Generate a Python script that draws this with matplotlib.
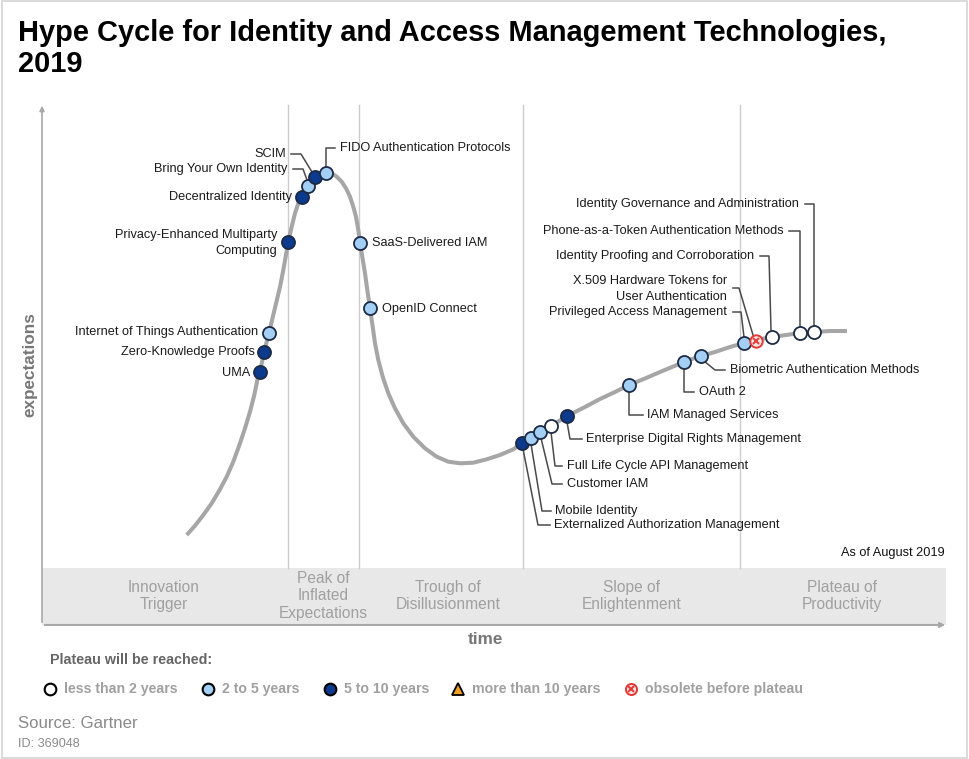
import matplotlib
matplotlib.use("Agg")
import matplotlib.pyplot as plt
from matplotlib.patches import Rectangle

plt.rcParams['font.family'] = ['Liberation Sans', 'DejaVu Sans']

# ---------------- data (pixel-space coordinates) ----------------
title_line1 = "Hype Cycle for Identity and Access Management Technologies,"
title_line2 = "2019"

# hype curve: time (x) and expectations (y, screen units, larger = lower)
curve_time = [186.7, 195, 203.3, 211.7, 220, 226.7, 233.3, 240, 245, 250, 254.3, 257.7, 260,
              264, 269, 274, 280, 283.3, 288.3, 291.7, 295, 298.3, 301.7, 308.3, 314.7, 320,
              326, 331.7, 336.7, 341.7, 346, 350, 353.3, 356, 358.3, 360, 362.3, 365, 367.3,
              370, 372.7, 375, 378.3, 382.7, 388.3, 395, 403.3, 413.3, 425, 436.7, 448.3,
              460, 473.3, 486.7, 500, 513.3, 522, 531, 540, 551, 567, 585, 600, 615, 629,
              645, 660, 672, 684, 692, 701, 715, 730, 744, 756, 772, 786, 800, 814, 830, 847]
curve_expect = [535, 525.7, 515, 503.3, 489.3, 476.7, 461.7, 443.3, 428.3, 411.7, 395, 378.3, 372,
                352, 333, 312, 287, 270, 241.7, 226.7, 213.3, 203.3, 197.3, 185.7, 177.3, 174,
                172.7, 173.3, 176.7, 181.7, 188.3, 196.7, 206.7, 216.7, 230, 242.7, 256.7, 273.3, 290,
                308.3, 326.7, 343.3, 360, 376.7, 393.3, 408.3, 423.3, 436.7, 448.3, 456.7, 461.7,
                463.3, 462.7, 459.3, 455, 449.3, 443, 438, 432, 426, 416, 407, 399, 392, 385,
                378.5, 372, 367, 362, 359, 356, 352, 347, 343, 340, 337, 335, 333, 332, 331, 331]

tech_names = ["UMA", "Zero-Knowledge Proofs", "Internet of Things Authentication",
              "Privacy-Enhanced Multiparty\nComputing", "Decentralized Identity",
              "Bring Your Own Identity", "SCIM", "FIDO Authentication Protocols",
              "SaaS-Delivered IAM", "OpenID Connect",
              "Externalized Authorization Management", "Mobile Identity", "Customer IAM",
              "Full Life Cycle API Management", "Enterprise Digital Rights Management",
              "IAM Managed Services", "OAuth 2", "Biometric Authentication Methods",
              "Privileged Access Management", "X.509 Hardware Tokens for\nUser Authentication",
              "Identity Proofing and Corroboration", "Phone-as-a-Token Authentication Methods",
              "Identity Governance and Administration"]
tech_time = [260, 264, 269, 288, 302, 308, 315, 326, 360, 370,
             522, 531, 540, 551, 567, 629, 684, 701, 744, 756, 772, 800, 814]
tech_expect = [372, 352, 333, 242, 197, 186, 177, 173, 243, 308,
               443, 438, 432, 426, 416, 385, 362, 356, 343, 341, 337, 333, 332]
# plateau categories: "lt2", "2to5", "5to10", "gt10", "obs"
tech_cat = ["5to10", "5to10", "2to5", "5to10", "5to10", "2to5", "5to10", "2to5", "2to5", "2to5",
            "5to10", "2to5", "2to5", "lt2", "5to10", "2to5", "2to5", "2to5", "2to5", "obs",
            "lt2", "lt2", "lt2"]

phase_names = ["Innovation\nTrigger", "Peak of\nInflated\nExpectations", "Trough of\nDisillusionment",
               "Slope of\nEnlightenment", "Plateau of\nProductivity"]
legend_labels = ["less than 2 years", "2 to 5 years", "5 to 10 years", "more than 10 years",
                 "obsolete before plateau"]
legend_cats = ["lt2", "2to5", "5to10", "gt10", "obs"]

# ---------------- layout / style ----------------
W, H = 970, 759
fig = plt.figure(figsize=(W / 100, H / 100), dpi=100)
ax = fig.add_axes([0, 0, 1, 1])
ax.set_xlim(0, W)
ax.set_ylim(H, 0)
ax.axis('off')

# outer frame
ax.add_patch(Rectangle((2.5, 0.5), 965, 757, fill=False, ec='#d4d4d4', lw=1.2, zorder=0))

# title
ax.text(18, 33, title_line1, fontsize=20.9, fontweight='bold', ha='left', va='center', color='black')
ax.text(18, 64, title_line2, fontsize=20.9, fontweight='bold', ha='left', va='center', color='black')

# plot-area geometry
x0, x1 = 42, 946
y_top, y_axis, band_top = 105, 625, 568
phase_bounds = [42, 288, 359, 523, 740, 946]
phase_label_x = [164, 323, 448, 632, 842]

ax.add_patch(Rectangle((x0, band_top), x1 - x0, y_axis - band_top, fc='#e8e8e8', ec='none', zorder=0))
for xb in phase_bounds[1:-1]:
    ax.plot([xb, xb], [y_top, band_top], color='#cccccc', lw=1, zorder=1)
for name, xc in zip(phase_names, phase_label_x):
    ax.text(xc, 596, name, fontsize=11.2, color='#a0a0a0', ha='center', va='center',
            linespacing=1.2, zorder=2)

# axes with arrows
ax.annotate('', xy=(x0, y_top - 2), xytext=(x0, y_axis),
            arrowprops=dict(arrowstyle='-|>', color='#a8a8a8', lw=1.2, mutation_scale=7), zorder=2)
ax.annotate('', xy=(x1 + 2, y_axis), xytext=(x0, y_axis),
            arrowprops=dict(arrowstyle='-|>', color='#a8a8a8', lw=1.5, mutation_scale=7), zorder=2)

ax.text(485, 639, "time", fontsize=12.3, fontweight='bold', color='#777777', ha='center', va='center')
ax.text(30, 365, "expectations", fontsize=12.3, fontweight='bold', color='#777777',
        ha='center', va='center', rotation=90)
ax.text(945, 553, "As of August 2019", fontsize=9.2, color='#111111', ha='right', va='center')

# curve
ax.plot(curve_time, curve_expect, color='#a6a6a6', lw=2.9, solid_capstyle='butt',
        solid_joinstyle='round', zorder=3)

face = {"lt2": "white", "2to5": "#a3cff4", "5to10": "#0c3a8c", "gt10": "#f0a020", "obs": "white"}
edge = '#1c2a44'


def draw_marker(x, y, cat, size=9.4, z=6, legend=False):
    if cat == "obs":
        ax.plot([x], [y], marker='o', ms=size * 0.95, mfc='#fbe3e3', mec='#e53935', mew=1.4, zorder=z)
        ax.plot([x], [y], marker='x', ms=size * 0.5, mec='#e53935', mew=1.4, zorder=z + 0.1)
    elif cat == "gt10":
        ax.plot([x], [y], marker='^', ms=size * 1.1, mfc=face[cat], mec='black', mew=1.3, zorder=z)
    else:
        ax.plot([x], [y], marker='o', ms=size, mfc=face[cat],
                mec='black' if legend else edge, mew=1.5 if legend else 1.3, zorder=z)


for x, y, c in zip(tech_time, tech_expect, tech_cat):
    draw_marker(x, y, c)

# label placement: (text x, text y, ha, leader path)
label_layout = {
    "UMA": (250, 373, 'right', None),
    "Zero-Knowledge Proofs": (255, 352, 'right', None),
    "Internet of Things Authentication": (258, 332, 'right', None),
    "Privacy-Enhanced Multiparty\nComputing": (277, 243, 'right', None),
    "Decentralized Identity": (292, 197, 'right', None),
    "Bring Your Own Identity": (287, 169, 'right', [(293, 169), (303, 169), (307, 180)]),
    "SCIM": (286, 154, 'right', [(291, 154), (301, 154), (312, 172)]),
    "FIDO Authentication Protocols": (340, 148, 'left', [(335, 148), (326, 148), (326, 166)]),
    "SaaS-Delivered IAM": (372, 243, 'left', None),
    "OpenID Connect": (382, 309, 'left', None),
    "Externalized Authorization Management": (554, 525, 'left', [(523, 449), (538, 525), (550, 525)]),
    "Mobile Identity": (555, 511, 'left', [(531, 444), (542, 511), (551, 511)]),
    "Customer IAM": (567, 484, 'left', [(541, 438), (552, 484), (562, 484)]),
    "Full Life Cycle API Management": (567, 466, 'left', [(551, 432), (555, 466), (562, 466)]),
    "Enterprise Digital Rights Management": (586, 439, 'left', [(567, 422), (570, 439), (582, 439)]),
    "IAM Managed Services": (647, 415, 'left', [(629, 391), (629, 415), (643, 415)]),
    "OAuth 2": (699, 392, 'left', [(684, 368), (684, 392), (694, 392)]),
    "Biometric Authentication Methods": (730, 370, 'left', [(704, 361), (715, 370), (725, 370)]),
    "Privileged Access Management": (727, 312, 'right', [(733, 312), (741, 312), (744, 337)]),
    "X.509 Hardware Tokens for\nUser Authentication": (727, 289, 'right', [(733, 288), (739, 288), (753, 335)]),
    "Identity Proofing and Corroboration": (754, 256, 'right', [(760, 256), (769, 256), (771, 330)]),
    "Phone-as-a-Token Authentication Methods": (784, 231, 'right', [(789, 231), (800, 231), (800, 326)]),
    "Identity Governance and Administration": (799, 204, 'right', [(805, 204), (814, 204), (814, 325)]),
}

for name in tech_names:
    tx, ty, ha, path = label_layout[name]
    ax.text(tx, ty, name, fontsize=9.2, color='#1a1a1a', ha=ha, va='center',
            multialignment=ha, linespacing=1.5, zorder=7)
    if path:
        xs, ys = zip(*path)
        ax.plot(xs, ys, color='#4a4a4a', lw=1.1, zorder=4)

# legend
ax.text(50, 660, "Plateau will be reached:", fontsize=10.3, fontweight='bold', color='#666666',
        ha='left', va='center')
legend_x = [50, 208, 330, 458, 631]
for lx, lab, c in zip(legend_x, legend_labels, legend_cats):
    draw_marker(lx, 689, c, size=8.4, legend=True)
    ax.text(lx + 14, 689, lab, fontsize=10.2, fontweight='bold', color='#a0a0a0',
            ha='left', va='center')

ax.text(18, 724, "Source: Gartner", fontsize=12.1, color='#8a8a8a', ha='left', va='center')
ax.text(18, 744, "ID: 369048", fontsize=9.1, color='#8a8a8a', ha='left', va='center')

fig.savefig("out.png", dpi=100)
